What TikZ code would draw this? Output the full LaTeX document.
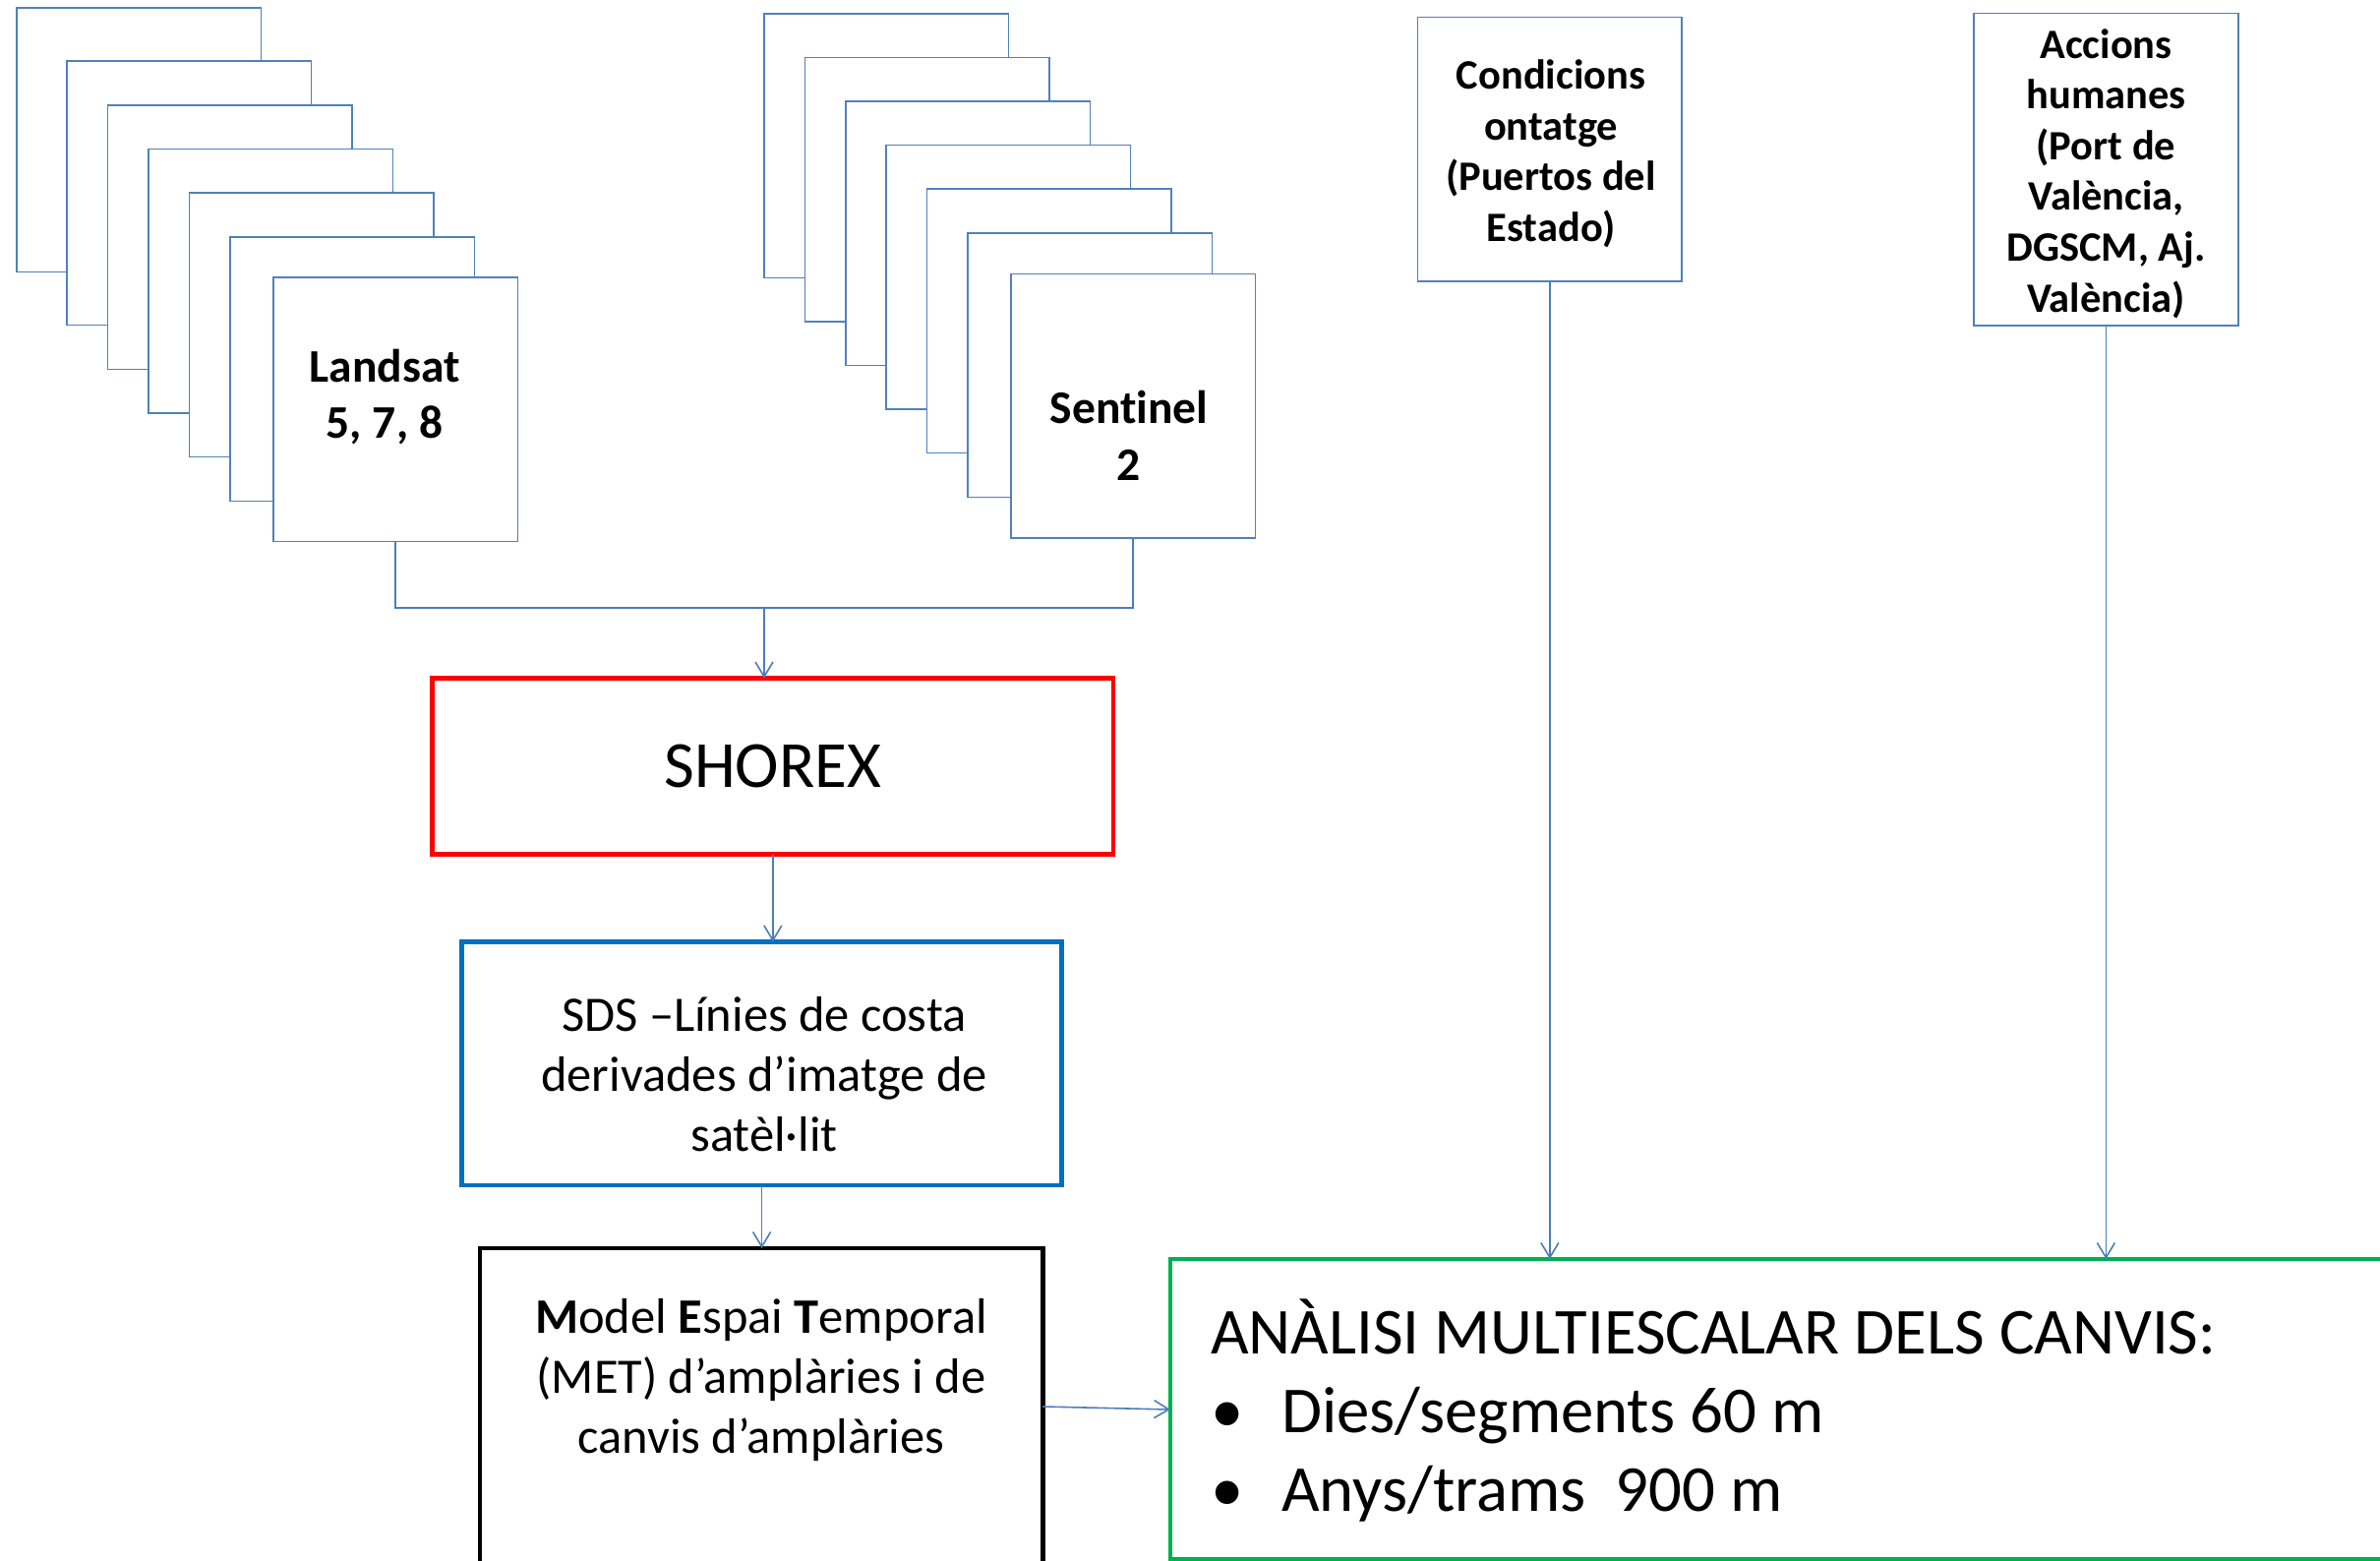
\documentclass[tikz,border=0pt]{standalone}
\usepackage{fontspec}
\setmainfont{Carlito}[Ligatures=NoCommon]
\usetikzlibrary{arrows.meta,calc}
\definecolor{sheetcol}{RGB}{79,129,189}
\definecolor{conncol}{RGB}{74,126,187}
\definecolor{redb}{RGB}{255,0,0}
\definecolor{blueb}{RGB}{0,112,192}
\definecolor{greenb}{RGB}{0,176,80}
\begin{document}
\begin{tikzpicture}[x=1pt,y=-1pt,
  sheet/.style={draw=sheetcol, line width=1.5pt, fill=white, inner sep=0pt, outer sep=0pt,
    anchor=north west, minimum width=248.5pt, minimum height=268.5pt},
  srcbox/.style={draw=sheetcol, line width=1.5pt, fill=white, inner sep=0pt, outer sep=0pt,
    anchor=north west},
  srctxt/.style={font=\bfseries\fontsize{42.5}{51.6}\selectfont, align=center, inner sep=0pt},
  bigbox/.style={line width=4.5pt, fill=white, inner sep=0pt, outer sep=0pt, anchor=north west, align=center},
  sheettxt/.style={font=\bfseries\fontsize{47.5}{57.6}\selectfont, align=center, inner sep=0pt},
  conn/.style={draw=conncol, line width=1.6pt},
  arr/.style={conn, -{Straight Barb[length=15pt,width=18pt]}}
]
\useasboundingbox (0,0) rectangle (2420,1587);
\clip (0,0) rectangle (2420,1587);

% Landsat stack
\node[sheet] (l1) at (17,8) {};
\node[sheet] (l2) at (68,62) {};
\node[sheet] (l3) at (109.5,107) {};
\node[sheet] (l4) at (151,151.5) {};
\node[sheet] (l5) at (192.5,196) {};
\node[sheet] (l6) at (234,241) {};
\node[sheet] (landsat) at (278,282) {};
\node[sheettxt] (landsattext) at (391,403.5) {Landsat\\5, 7, 8};

% Sentinel stack
\node[sheet] (s1) at (777,14) {};
\node[sheet] (s2) at (818.5,58.5) {};
\node[sheet] (s3) at (860,103) {};
\node[sheet] (s4) at (901,147.5) {};
\node[sheet] (s5) at (942.5,192) {};
\node[sheet] (s6) at (984,237) {};
\node[sheet] (sentinel) at (1028,278.5) {};
\node[sheettxt] (sentineltext) at (1148,443) {Sentinel\\2};

% Source boxes
\node[srcbox, minimum width=268.7pt, minimum height=268.7pt] (cond) at (1441.5,17.3) {};
\node[srctxt] (condtext) at (1577,156.5) {Condicions\\ontatge\\(Puertos del\\Estado)};
\node[srcbox, minimum width=268.8pt, minimum height=317.3pt] (acc) at (2007,13.7) {};
\node[srctxt] (acctext) at (2141.5,176.5)
  {Accions\\humanes\\(Port de\\València,\\DGSCM, Aj.\\València)};

% Process boxes
\node[bigbox, draw=redb, minimum width=692.7pt, minimum height=179.2pt,
  font=\fontsize{67}{80}\selectfont] (shorex) at (439.5,689.5) {SHOREX};
\node[bigbox, draw=blueb, minimum width=610.2pt, minimum height=247.7pt] (sds) at (469.5,957.5) {};
\node[font=\fontsize{50.5}{61}\selectfont, align=center, inner sep=0pt] (sdstext) at (777,1092)
  {SDS –Línies de costa\\derivades d’imatge de\\satèl·lit};
\node[bigbox, draw=black, minimum width=572.3pt, minimum height=400pt] (met) at (488,1269) {};
\node[font=\fontsize{50.5}{61}\selectfont, align=center, inner sep=0pt] (mettext) at (774,1403)
  {\textbf{M}odel \textbf{E}spai \textbf{T}emporal\\(MET) d’amplàries i de\\canvis d’amplàries};
\node[bigbox, draw=greenb, minimum width=1300pt, minimum height=305pt] (green) at (1190,1280) {};
\node[font=\fontsize{66.7}{80}\selectfont, align=left, anchor=west, inner sep=0pt] (greentext) at (1231,1434)
  {ANÀLISI MULTIESCALAR DELS CANVIS:\\\makebox[72pt][l]{•}Dies/segments 60 m\\\makebox[72pt][l]{•}Anys/trams\ \ 900 m};

% Connectors
\coordinate (join) at (777,618);
\draw[conn] (landsat.south) |- (join) -| (sentinel.south);
\draw[arr] (join) -- (join |- shorex.north);
\draw[arr] (shorex.south) -- (shorex.south |- sds.north);
\draw[arr] (sds.south) -- (sds.south |- met.north);
\draw[arr] ($(met.north east)+(0,161)$) -- ($(green.north west)+(0,153)$);
\draw[arr] (cond.south) -- (cond.south |- green.north);
\draw[arr] (acc.south) -- (acc.south |- green.north);
\end{tikzpicture}
\end{document}
